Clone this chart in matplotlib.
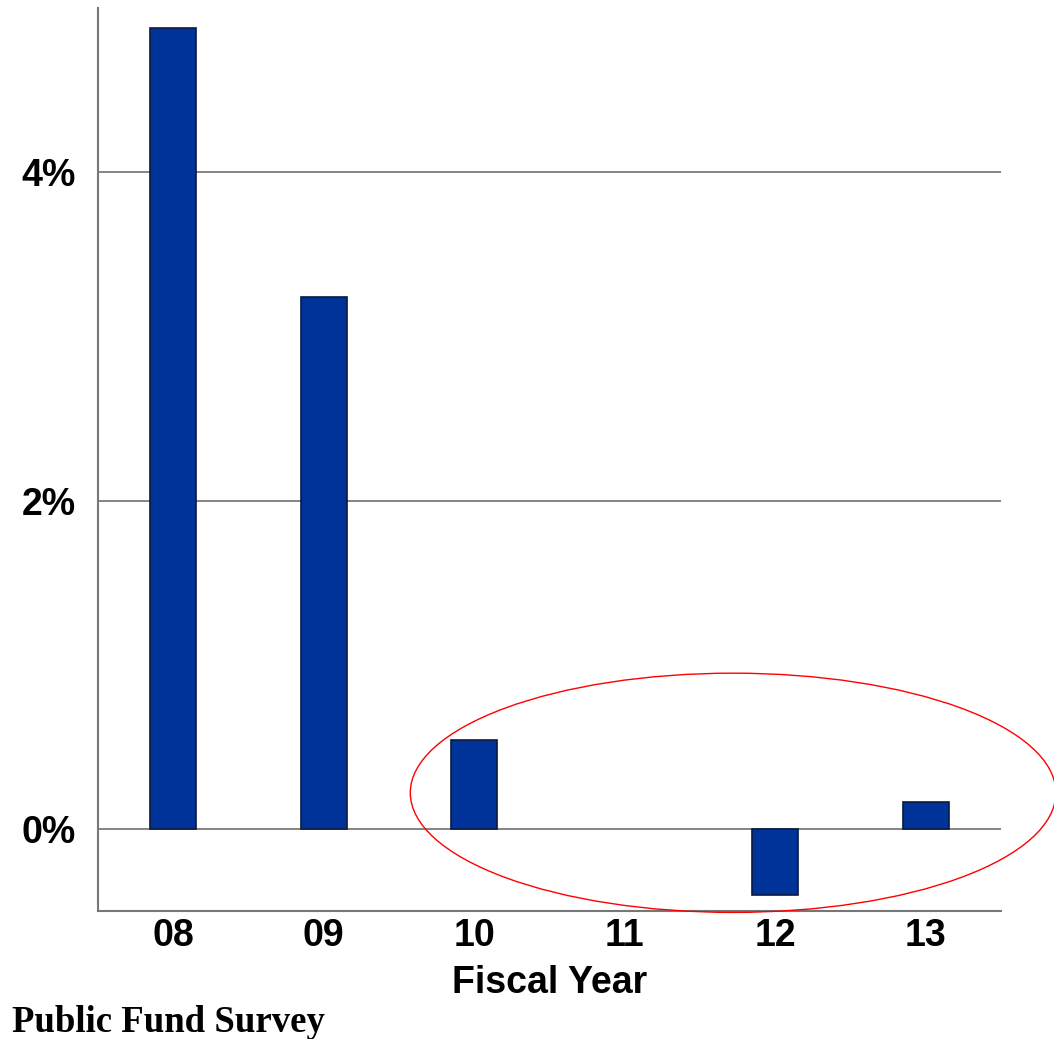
import matplotlib.pyplot as plt
from matplotlib.patches import Ellipse

# Fiscal year change (%)
years = ['08', '09', '10', '11', '12', '13']
change = [4.88, 3.24, 0.54, 0.0, -0.40, 0.165]
yticks = [0, 2, 4]
ytick_labels = ['0%', '2%', '4%']

fig = plt.figure(figsize=(10.54, 10.39), dpi=100)
ax = fig.add_axes([0.093, 0.1232, 0.8567, 0.8691])

x = range(len(years))
edges = ['#0a1a40' if v != 0 else 'none' for v in change]
ax.bar(x, change, width=0.305, color='#003399', edgecolor=edges, linewidth=1.2, zorder=3)

ax.set_xlim(-0.5, 5.5)
ax.set_ylim(-0.5, 5.0)
ax.set_yticks(yticks)
ax.set_yticklabels(ytick_labels)
ax.set_xticks(list(x))
ax.set_xticklabels(years)
ax.tick_params(length=0, labelsize=27)
ax.tick_params(axis='x', pad=5)
ax.tick_params(axis='y', pad=16)
for lbl in ax.get_xticklabels() + ax.get_yticklabels():
    lbl.set_fontweight('bold')
    lbl.set_fontfamily('Liberation Sans')

ax.yaxis.grid(True, color='#707070', linewidth=1.2, zorder=1)
ax.set_axisbelow(True)
for s in ['top', 'right']:
    ax.spines[s].set_visible(False)
ax.spines['left'].set_color('#777777')
ax.spines['bottom'].set_color('#777777')
ax.spines['left'].set_linewidth(1.5)
ax.spines['bottom'].set_linewidth(1.5)

ax.set_xlabel('Fiscal Year', fontsize=27, fontweight='bold', family='Liberation Sans', labelpad=8)

# red ellipse around the recent years
ell = Ellipse((3.72, 0.22), width=4.29, height=1.457, fill=False,
              edgecolor='red', linewidth=1.0, clip_on=False, zorder=4)
ax.add_patch(ell)

fig.text(0.011, 0.016, 'Public Fund Survey', fontsize=26.5, fontweight='bold',
         family='Liberation Serif', ha='left', va='center')

plt.savefig('out.png')
